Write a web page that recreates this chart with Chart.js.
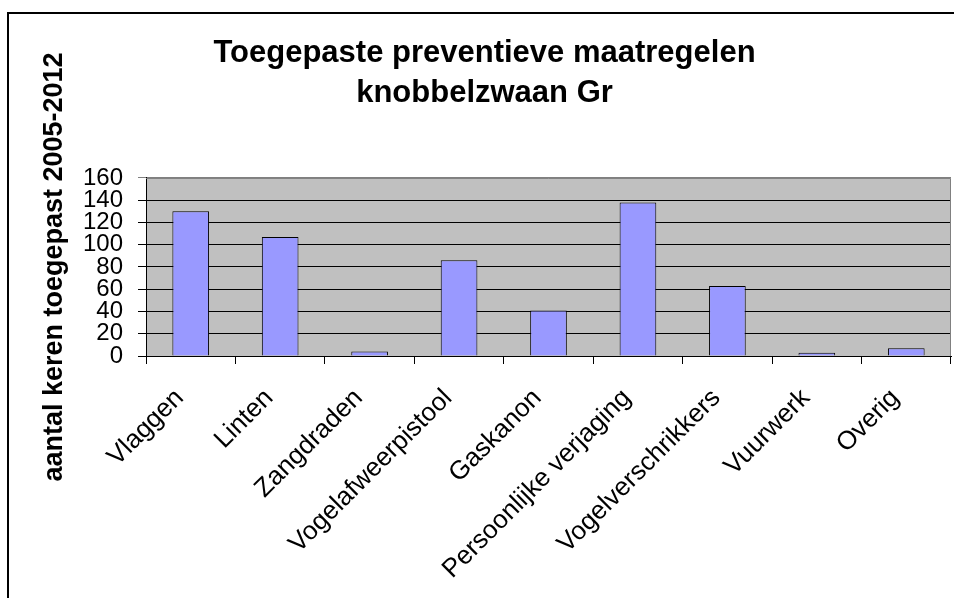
<!DOCTYPE html>
<html>
<head>
<meta charset="utf-8">
<script src="https://cdn.jsdelivr.net/npm/chart.js@4.4.1/dist/chart.umd.min.js"></script>
<style>
  body { margin: 0; background: #fff; }
  #wrap { width: 954px; height: 598px; }
</style>
</head>
<body>
<div id="wrap"><canvas id="myChart" width="954" height="598"></canvas></div>
<script>
const categories = ['Vlaggen', 'Linten', 'Zangdraden', 'Vogelafweerpistool', 'Gaskanon',
    'Persoonlijke verjaging', 'Vogelverschrikkers', 'Vuurwerk', 'Overig'];
const timesApplied = [130, 107, 4, 86, 41, 138, 63, 3, 7];
const yTicks = [0, 20, 40, 60, 80, 100, 120, 140, 160];
const titleLines = ['Toegepaste preventieve maatregelen', 'knobbelzwaan Gr'];
const yTitle = 'aantal keren toegepast 2005-2012';

const fontFamily = '"Liberation Sans", Arial, sans-serif';

// grijze plotachtergrond, kader om de grafiek en de y-as titel
const chartFrame = {
    id: 'chartFrame',
    beforeDraw(chart) {
        const { ctx, chartArea: a } = chart;
        ctx.save();
        ctx.fillStyle = '#C0C0C0';
        ctx.fillRect(a.left, a.top, a.right - a.left, a.bottom - a.top);
        ctx.strokeStyle = '#000';
        ctx.lineWidth = 2;
        ctx.strokeRect(8, 13, 1200, 1200);
        ctx.restore();
    },
    afterDatasetsDraw(chart) {
        const { ctx, chartArea: a } = chart;
        ctx.save();
        ctx.strokeStyle = '#808080';
        ctx.lineWidth = 1;
        ctx.beginPath();
        ctx.moveTo(a.left, a.top + 0.5);
        ctx.lineTo(a.right - 0.5, a.top + 0.5);
        ctx.lineTo(a.right - 0.5, a.bottom);
        ctx.stroke();
        ctx.restore();
    },
    afterDraw(chart) {
        const { ctx, chartArea: a } = chart;
        ctx.save();
        ctx.translate(62, (a.top + a.bottom) / 2);
        ctx.rotate(-Math.PI / 2);
        ctx.font = 'bold 27px ' + fontFamily;
        ctx.fillStyle = '#000';
        ctx.textAlign = 'center';
        ctx.textBaseline = 'alphabetic';
        ctx.fillText(yTitle, 0, 0);
        ctx.restore();
    },
};

new Chart('myChart', {
    type: 'bar',
    data: {
        labels: categories,
        datasets: [
            {
                label: yTitle,
                data: timesApplied,
                backgroundColor: '#9999FF',
                borderColor: '#000',
                borderWidth: 1,
                categoryPercentage: 1,
                barPercentage: 0.41,
            },
        ],
    },
    options: {
        responsive: false,
        animation: false,
        layout: { padding: { left: 18, right: 3, top: 0, bottom: 0 } },
        plugins: {
            legend: { display: false },
            tooltip: { enabled: false },
            title: {
                display: true,
                text: titleLines,
                color: '#000',
                font: { family: fontFamily, size: 31, weight: 'bold', lineHeight: 1.29 },
                padding: { top: 33.5, bottom: 64.5 },
            },
        },
        scales: {
            x: {
                grid: { display: true, drawOnChartArea: false, color: '#000', tickLength: 8, offset: true },
                border: { display: true, color: '#000', width: 1 },
                ticks: {
                    color: '#000',
                    font: { family: fontFamily, size: 26 },
                    minRotation: 45,
                    maxRotation: 45,
                    autoSkip: false,
                    padding: 19,
                    labelOffset: -11,
                },
                afterFit(scale) {
                    scale.height = 242;
                    scale.paddingLeft = 0;
                    scale.paddingRight = 0;
                },
            },
            y: {
                min: 0,
                max: 160,
                afterBuildTicks(axis) {
                    axis.ticks = yTicks.map(v => ({ value: v }));
                },
                grid: {
                    color: ctx => (ctx.tick && ctx.tick.value === 160 ? '#808080' : '#000'),
                    lineWidth: 1,
                    tickLength: 8,
                },
                border: { display: true, color: '#000', width: 1 },
                ticks: {
                    color: '#000',
                    font: { family: fontFamily, size: 24, lineHeight: 1 },
                    autoSkip: false,
                    padding: 15,
                },
                afterFit(scale) {
                    scale.width = 128;
                    scale.paddingTop = 0;
                    scale.paddingBottom = 0;
                },
            },
        },
    },
    plugins: [chartFrame],
});
</script>
</body>
</html>
